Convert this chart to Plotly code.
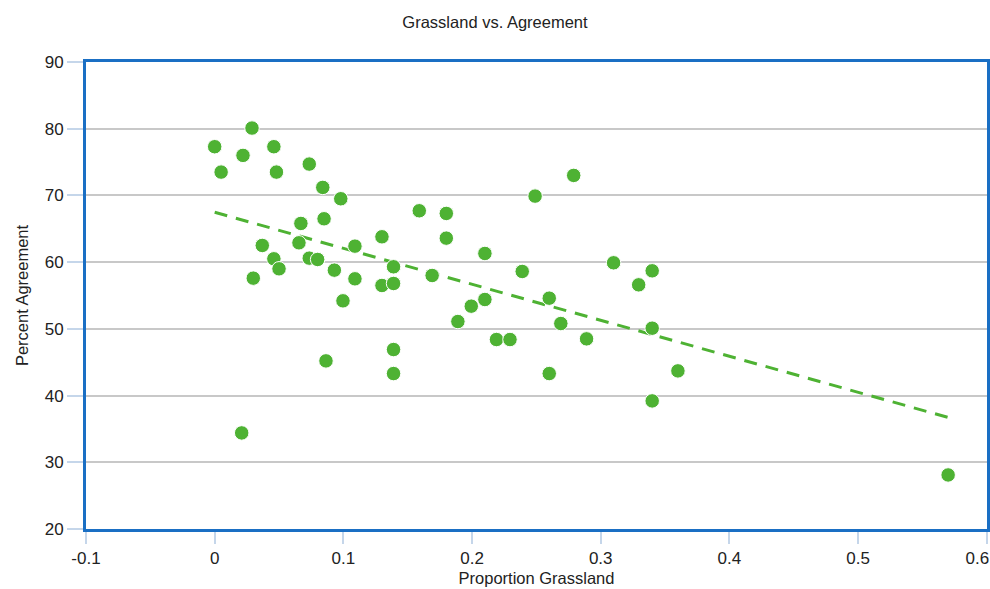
import numpy as np
import plotly.graph_objects as go

grassland = [0.000, 0.029, 0.022, 0.046, 0.005, 0.048, 0.0735, 0.084, 0.098, 0.159,
             0.067, 0.085, 0.037, 0.0655, 0.109, 0.130, 0.046, 0.050, 0.0735, 0.080,
             0.030, 0.093, 0.109, 0.139, 0.130, 0.139, 0.169, 0.0997, 0.0865, 0.139,
             0.139, 0.021, 0.279, 0.249, 0.180, 0.180, 0.210, 0.239, 0.310, 0.340,
             0.3295, 0.260, 0.210, 0.1994, 0.189, 0.269, 0.340, 0.219, 0.2295, 0.289,
             0.260, 0.360, 0.340, 0.570]
agreement = [77.3, 80.1, 76.0, 77.3, 73.5, 73.5, 74.7, 71.2, 69.5, 67.7,
             65.8, 66.5, 62.5, 62.9, 62.4, 63.8, 60.5, 59.0, 60.6, 60.4,
             57.6, 58.8, 57.5, 59.3, 56.5, 56.8, 58.0, 54.2, 45.2, 46.9,
             43.3, 34.4, 73.0, 69.9, 67.3, 63.6, 61.3, 58.6, 59.9, 58.7,
             56.6, 54.6, 54.4, 53.4, 51.1, 50.8, 50.1, 48.4, 48.4, 48.5,
             43.3, 43.7, 39.2, 28.1]

x_ticks = [-0.1, 0, 0.1, 0.2, 0.3, 0.4, 0.5, 0.6]
x_tick_labels = ["-0.1", "0", "0.1", "0.2", "0.3", "0.4", "0.5",
                 "0.6\u00a0\u00a0\u00a0\u00a0"]
y_ticks = [20, 30, 40, 50, 60, 70, 80, 90]

green = "#4EB233"
slope, intercept = np.polyfit(grassland, agreement, 1)
fit_x = [min(grassland), max(grassland)]
fit_y = [slope * v + intercept for v in fit_x]

fig = go.Figure()
fig.add_trace(go.Scatter(
    x=fit_x, y=fit_y, mode="lines",
    line=dict(color=green, width=3, dash="13px,9px"),
    hoverinfo="skip", showlegend=False))
fig.add_trace(go.Scatter(
    x=grassland, y=agreement, mode="markers",
    marker=dict(color=green, size=14.5, line=dict(color="white", width=1)),
    showlegend=False))

font_family = "Liberation Sans, Arial, sans-serif"
fig.update_layout(
    width=990, height=589,
    margin=dict(l=86, r=3, t=62, b=60, autoexpand=False),
    paper_bgcolor="white", plot_bgcolor="white",
    font=dict(family=font_family, color="#222222", size=16),
    title=dict(text="Grassland vs. Agreement", x=0.5, xanchor="center",
               y=0.962, yanchor="middle", font=dict(size=16.5, color="#222222")),
    xaxis=dict(range=[-0.1, 0.6002], tickvals=x_ticks, ticktext=x_tick_labels,
               showgrid=False, zeroline=False, ticklabeloverflow="allow",
               automargin=False,
               showline=True, mirror=True, linecolor="#1A6FC4", linewidth=3,
               ticks="outside", ticklen=12, tickwidth=2, tickcolor="#C5D6EA",
               tickfont=dict(size=17, color="#222222"),
               title=dict(text="Proportion Grassland", font=dict(size=16.5), standoff=6)),
    yaxis=dict(range=[20, 90], tickvals=y_ticks, automargin=False,
               showgrid=True, gridcolor="#C8C8C8", gridwidth=1.5, zeroline=False,
               showline=True, mirror=True, linecolor="#1A6FC4", linewidth=3,
               ticks="outside", ticklen=16, tickwidth=2, tickcolor="#C5D6EA",
               tickfont=dict(size=17, color="#222222"),
               title=dict(text="Percent Agreement", font=dict(size=16.5), standoff=12)),
)

fig.write_html("out.html")
